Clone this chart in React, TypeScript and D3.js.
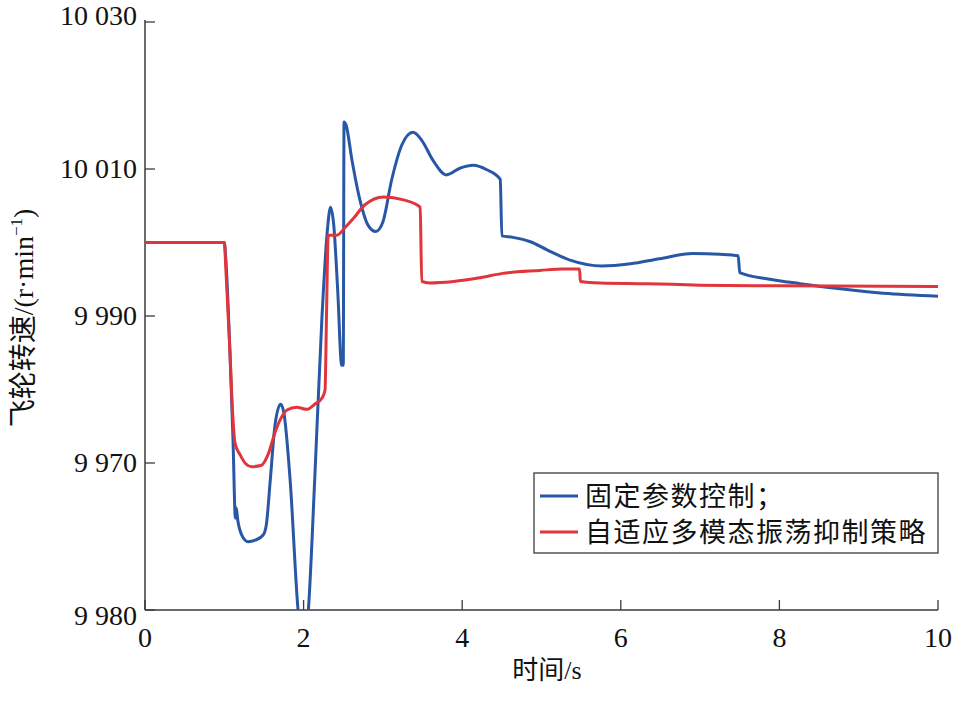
import React from "react";
import * as d3 from "d3";

// ---- data ----
const blueT = [0, 1.0, 1.02, 1.07, 1.11, 1.14, 1.15, 1.17, 1.22, 1.3, 1.39, 1.49, 1.53, 1.58, 1.64, 1.71, 1.75, 1.83, 1.93, 1.99, 2.06, 2.14, 2.23, 2.3, 2.34, 2.38, 2.43, 2.48, 2.5, 2.51, 2.535, 2.61, 2.71, 2.81, 2.91, 3.0, 3.11, 3.24, 3.38, 3.49, 3.63, 3.8, 3.97, 4.14, 4.31, 4.48, 4.5, 4.64, 4.86, 5.07, 5.36, 5.76, 6.12, 6.49, 6.91, 7.25, 7.48, 7.5, 7.88, 8.26, 8.68, 9.31, 10.0];
const blueV = [10000, 10000, 9997.6, 9985.4, 9973.1, 9962.5, 9963.9, 9962.2, 9960.2, 9959.3, 9959.5, 9960.2, 9961.6, 9967.7, 9975.2, 9978.0, 9976.9, 9967.7, 9950, 9944.6, 9950, 9967.7, 9989.5, 10001.7, 10004.8, 10002.4, 9993.5, 9983.3, 9983.3, 10016.4, 10016.0, 10011.2, 10005.8, 10002.4, 10001.5, 10002.8, 10008.5, 10013.3, 10015.0, 10013.9, 10011.2, 10009.2, 10010.1, 10010.5, 10009.9, 10008.6, 10000.9, 10000.7, 10000.1, 9999.0, 9997.6, 9996.8, 9997.1, 9997.8, 9998.5, 9998.4, 9998.2, 9995.9, 9995.0, 9994.4, 9993.8, 9993.1, 9992.7];

const redT = [0, 1.0, 1.02, 1.07, 1.11, 1.135, 1.2, 1.27, 1.345, 1.47, 1.55, 1.65, 1.79, 1.91, 2.04, 2.14, 2.23, 2.27, 2.29, 2.31, 2.42, 2.52, 2.63, 2.77, 3.01, 3.26, 3.47, 3.49, 3.59, 3.89, 4.22, 4.51, 4.98, 5.27, 5.48, 5.49, 5.74, 6.33, 7.0, 8.01, 10.0];
const redV = [10000, 10000, 9996.3, 9985.4, 9975.9, 9972.7, 9971.1, 9969.9, 9969.5, 9969.7, 9971.1, 9974.5, 9977.2, 9977.6, 9977.3, 9978.0, 9978.8, 9979.9, 9990.8, 10001.0, 10001.0, 10002.0, 10003.3, 10005.1, 10006.2, 10005.8, 10004.8, 9994.7, 9994.5, 9994.7, 9995.2, 9995.8, 9996.2, 9996.4, 9996.4, 9994.7, 9994.5, 9994.4, 9994.2, 9994.1, 9994.0];

const xTicks = [0, 2, 4, 6, 8, 10];
const xTickLabels = ["0", "2", "4", "6", "8", "10"];
const yTicks = [9950, 9970, 9990, 10010, 10030];
const yTickLabels = ["9 980", "9 970", "9 990", "10 010", "10 030"];

const seriesNames = ["固定参数控制；", "自适应多模态振荡抑制策略"];
const seriesColors = ["#2858a5", "#e0353a"];

const xTitle = "时间/s";

export default function App() {
  const W = 961, H = 710;
  const left = 145, right = 938, top = 22, bottom = 610;
  const x = d3.scaleLinear().domain([0, 10]).range([left, right]);
  const y = d3.scaleLinear().domain([9950, 10030]).range([bottom, top]);

  const line = d3
    .line<[number, number]>()
    .x((d) => x(d[0]))
    .y((d) => y(d[1]))
    .curve(d3.curveMonotoneX);

  const blue = line(blueT.map((t, i) => [t, blueV[i]] as [number, number])) || "";
  const red = line(redT.map((t, i) => [t, redV[i]] as [number, number])) || "";

  const serif = "'Liberation Serif', 'Noto Sans CJK SC', serif";
  const axisColor = "#3a3a3a";

  const legX = 534, legY = 473, legW = 404, legH = 80;
  const yLabelOffset = (i: number) => (i === 0 ? 15 : i === yTicks.length - 1 ? 3 : 9);

  return (
    <svg
      width={W}
      height={H}
      style={{ position: "absolute", left: 0, top: 0, background: "#fff" }}
      fontFamily={serif}
    >
      <defs>
        <clipPath id="plot">
          <rect x={left} y={top - 2} width={right - left} height={bottom - top + 2} />
        </clipPath>
      </defs>

      {/* axes */}
      <line x1={left} y1={top - 2} x2={left} y2={bottom} stroke={axisColor} strokeWidth={1.5} />
      <line x1={left} y1={bottom} x2={right} y2={bottom} stroke={axisColor} strokeWidth={1.5} />

      {yTicks.map((v, i) => (
        <g key={"y" + i}>
          <line x1={left} x2={left + 10} y1={y(v)} y2={y(v)} stroke={axisColor} strokeWidth={1.3} />
          <text x={left - 8} y={y(v) + yLabelOffset(i)} textAnchor="end" fontSize={28} fill="#111">
            {yTickLabels[i]}
          </text>
        </g>
      ))}

      {xTicks.map((t, i) => (
        <g key={"x" + i}>
          <line x1={x(t)} x2={x(t)} y1={bottom} y2={bottom - 10} stroke={axisColor} strokeWidth={1.3} />
          <text x={x(t)} y={647} textAnchor="middle" fontSize={28} fill="#111">
            {xTickLabels[i]}
          </text>
        </g>
      ))}

      {/* series */}
      <g clipPath="url(#plot)">
        <path d={blue} fill="none" stroke={seriesColors[0]} strokeWidth={3} strokeLinejoin="round" />
        <path d={red} fill="none" stroke={seriesColors[1]} strokeWidth={3} strokeLinejoin="round" />
      </g>

      {/* axis titles */}
      <text x={547} y={679} textAnchor="middle" fontSize={26} fill="#111">
        {xTitle}
      </text>
      <text
        transform={`translate(33, 318) rotate(-90)`}
        textAnchor="middle"
        fontSize={28}
        fill="#111"
      >
        飞轮转速/(r·min
        <tspan fontSize={17} dy={-11}>−1</tspan>
        <tspan dy={11}>)</tspan>
      </text>

      {/* legend */}
      <rect x={legX} y={legY} width={legW} height={legH} fill="#fff" stroke="#555" strokeWidth={1.5} />
      {seriesNames.map((name, i) => {
        const ly = 496 + i * 36;
        return (
          <g key={"l" + i}>
            <line x1={540} x2={578} y1={ly} y2={ly} stroke={seriesColors[i]} strokeWidth={3} />
            <text
              x={585}
              y={ly + 10}
              fontSize={27}
              letterSpacing={1.5}
              fontFamily="'Noto Sans CJK SC', sans-serif"
              fill="#111"
            >
              {name}
            </text>
          </g>
        );
      })}
    </svg>
  );
}
